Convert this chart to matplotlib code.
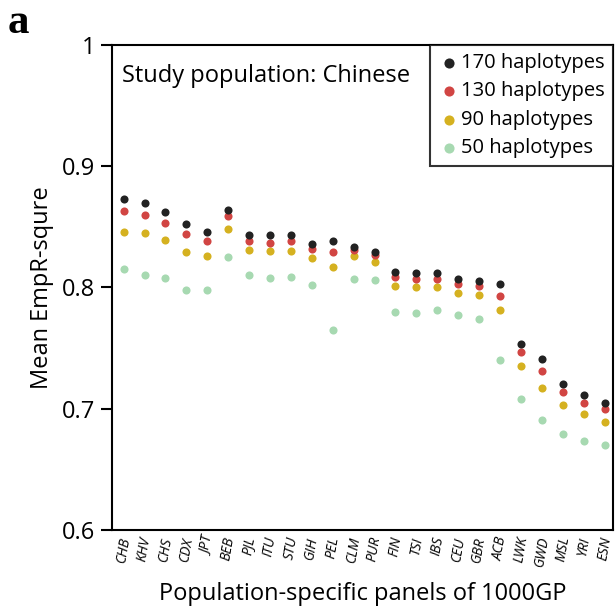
import numpy as np
import matplotlib
matplotlib.use("Agg")
import matplotlib.pyplot as plt

plt.rcParams['font.family'] = ['Open Sans', 'DejaVu Sans']

populations = ['CHB', 'KHV', 'CHS', 'CDX', 'JPT', 'BEB', 'PJL', 'ITU', 'STU', 'GIH',
               'PEL', 'CLM', 'PUR', 'FIN', 'TSI', 'IBS', 'CEU', 'GBR', 'ACB', 'LWK',
               'GWD', 'MSL', 'YRI', 'ESN']

hap170 = [0.873, 0.870, 0.862, 0.852, 0.846, 0.864, 0.843, 0.843, 0.843, 0.836,
          0.838, 0.833, 0.829, 0.813, 0.812, 0.812, 0.807, 0.805, 0.803, 0.753,
          0.741, 0.720, 0.711, 0.705]
hap130 = [0.863, 0.860, 0.853, 0.844, 0.838, 0.859, 0.838, 0.837, 0.838, 0.832,
          0.829, 0.831, 0.827, 0.809, 0.807, 0.807, 0.803, 0.801, 0.793, 0.747,
          0.731, 0.714, 0.705, 0.700]
hap90 = [0.846, 0.845, 0.839, 0.829, 0.826, 0.848, 0.831, 0.830, 0.830, 0.824,
         0.817, 0.826, 0.821, 0.801, 0.800, 0.800, 0.795, 0.794, 0.781, 0.735,
         0.717, 0.703, 0.696, 0.689]
hap50 = [0.815, 0.810, 0.808, 0.798, 0.798, 0.825, 0.810, 0.808, 0.809, 0.802,
         0.765, 0.807, 0.806, 0.780, 0.779, 0.781, 0.777, 0.774, 0.740, 0.708,
         0.691, 0.679, 0.673, 0.670]

series = [('170 haplotypes', hap170, '#222222'),
          ('130 haplotypes', hap130, '#d14543'),
          ('90 haplotypes', hap90, '#d5b120'),
          ('50 haplotypes', hap50, '#a7d9b1')]

fig = plt.figure(figsize=(6.15, 6.07), dpi=100)
ax = fig.add_axes([0.182, 0.127, 0.815, 0.799])

x = np.arange(len(populations))
# draw lowest first so the upper series sit on top
for label, vals, color in series[::-1]:
    ax.scatter(x, vals, s=34, color=color, label=label, linewidths=0, zorder=3)

ax.set_xlim(-0.56, 23.41)
ax.set_ylim(0.6, 1.0)
ax.set_yticks([0.6, 0.7, 0.8, 0.9, 1.0])
ax.set_yticklabels(['0.6', '0.7', '0.8', '0.9', '1'], fontsize=17)
ax.set_xticks(x)
ax.set_xticklabels(populations, rotation=80, fontsize=10, style='italic')
ax.tick_params(axis='x', length=0, pad=4)
ax.tick_params(axis='y', length=8, width=1.5, direction='out', pad=4)
for sp in ax.spines.values():
    sp.set_linewidth(1.5)

ax.set_ylabel('Mean EmpR-squre', fontsize=17, labelpad=6)
ax.set_xlabel('Population-specific panels of 1000GP', fontsize=17, labelpad=10)

ax.text(0.02, 0.935, 'Study population: Chinese', transform=ax.transAxes,
        fontsize=17, va='center', ha='left')

handles, labels = ax.get_legend_handles_labels()
leg = ax.legend(handles[::-1], labels[::-1], loc='upper right', fontsize=14.5,
                handletextpad=0.05, handlelength=1.1, borderaxespad=0,
                labelspacing=0.42, fancybox=False, edgecolor='black',
                markerscale=1.25, borderpad=0.4)
leg.get_frame().set_linewidth(1.5)

fig.text(0.012, 0.962, 'a', fontsize=31, fontweight='bold',
         family='Liberation Serif', va='center')

fig.savefig('out.png', dpi=100)
